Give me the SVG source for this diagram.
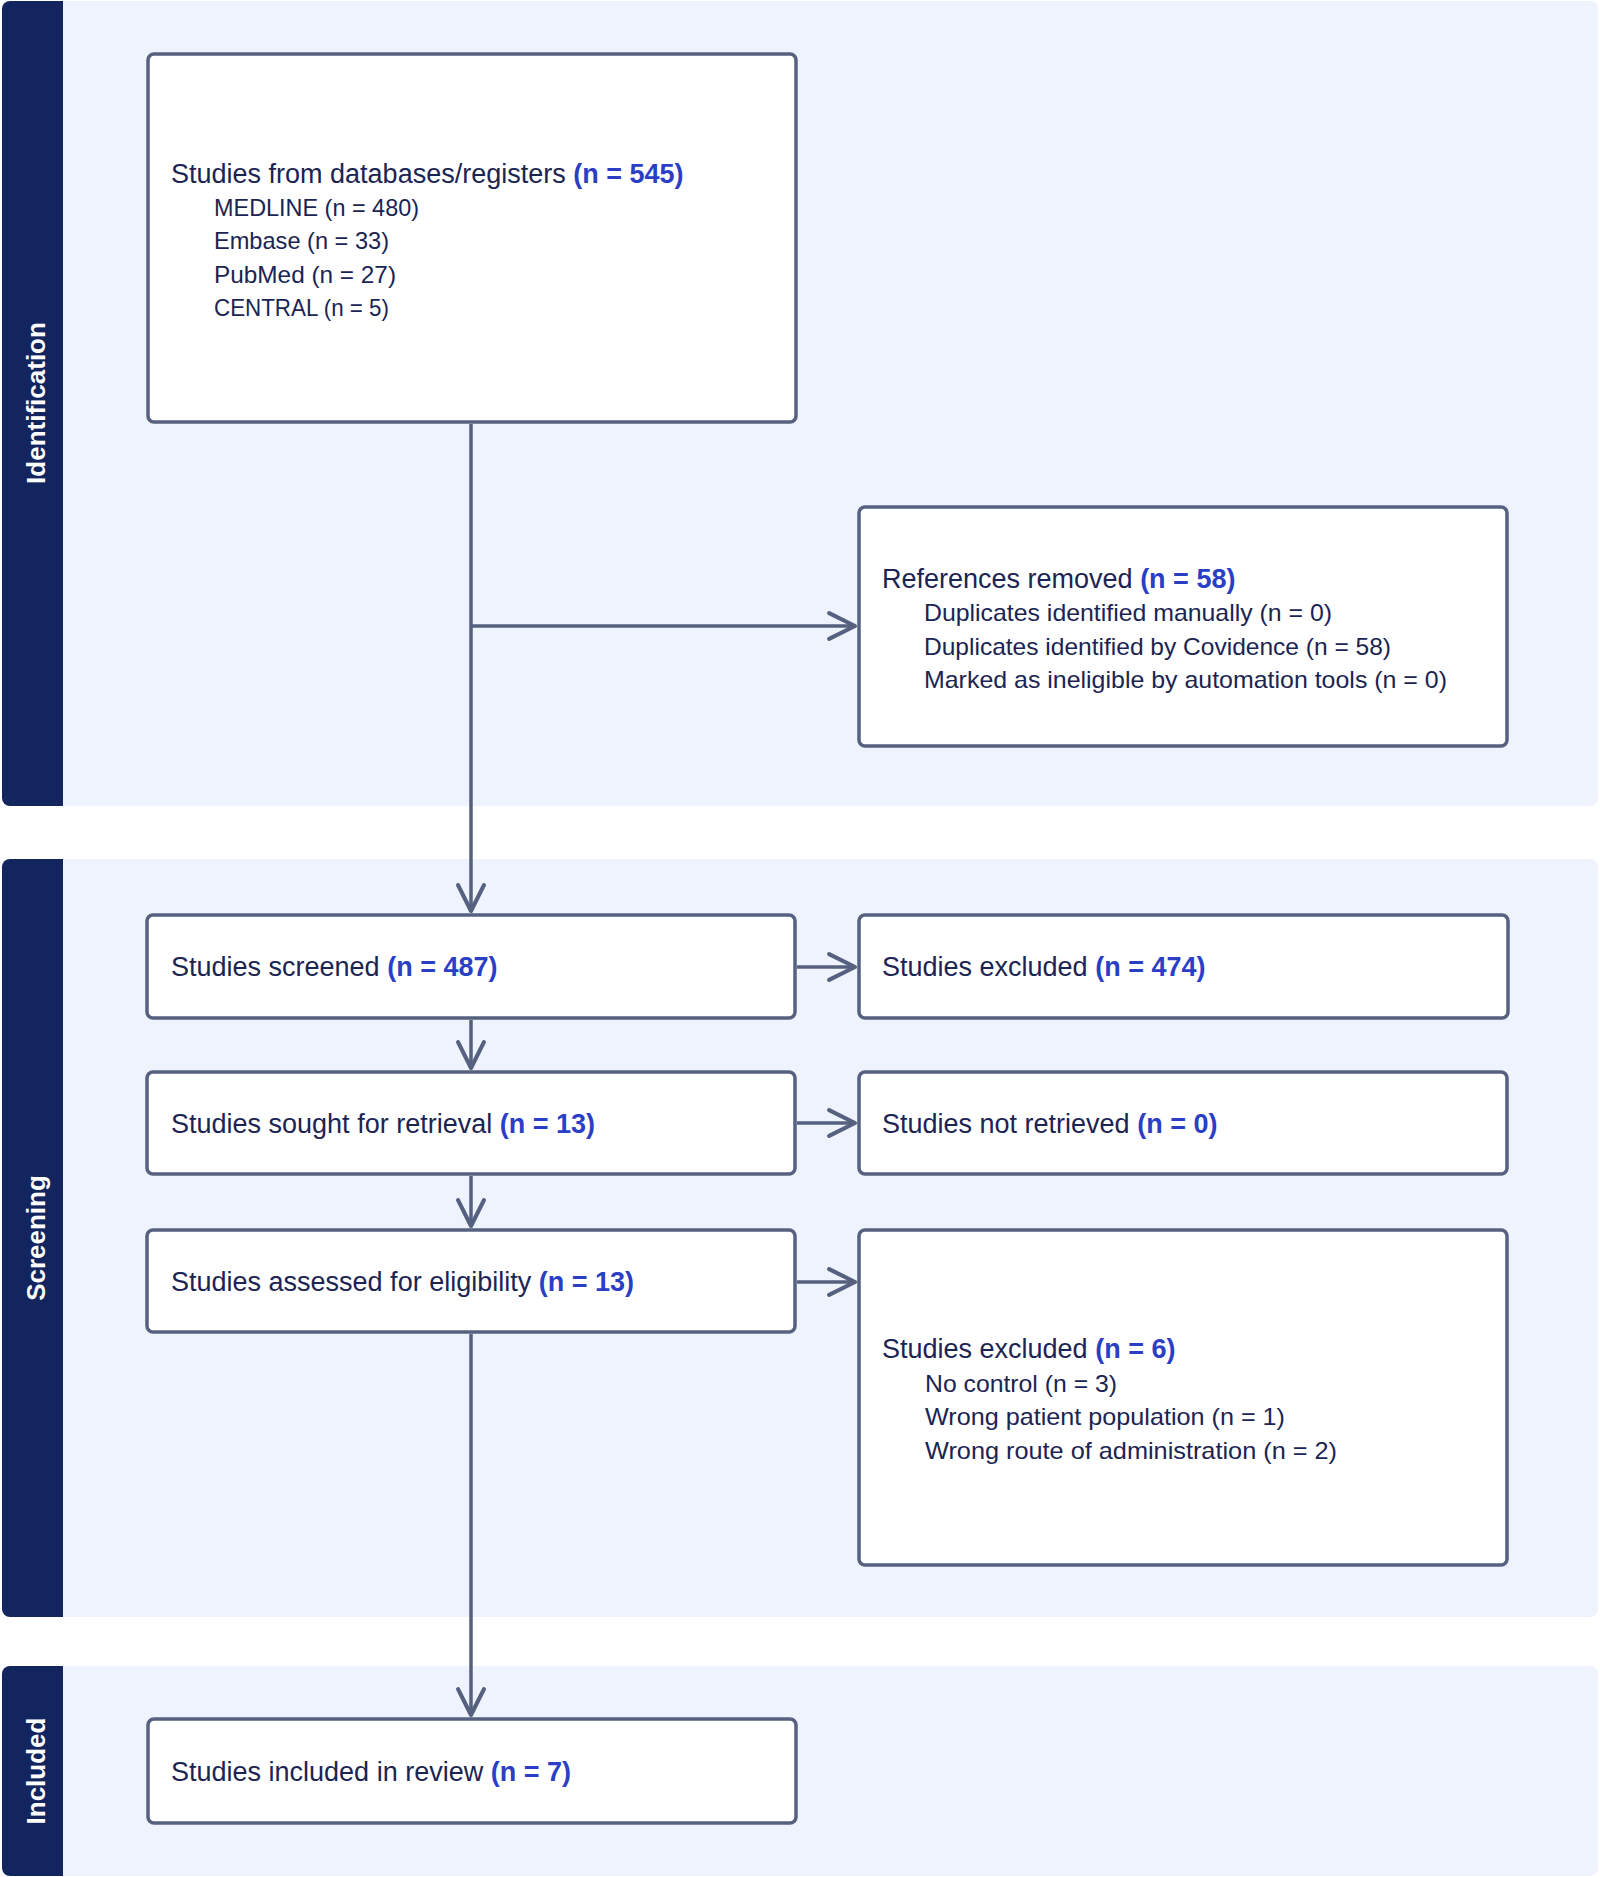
<svg xmlns="http://www.w3.org/2000/svg" width="1600" height="1877" viewBox="0 0 1600 1877">
<defs>
<style>
.band{fill:#eff3fd}
.side{fill:#13255e}
.lbl{font-family:"Liberation Sans",Arial,sans-serif;font-weight:bold;font-size:26px;fill:#ffffff;text-anchor:middle}
.box{fill:#ffffff;stroke:#56617f;stroke-width:3.5}
.t{font-family:"Liberation Sans",Arial,sans-serif;font-size:27px;fill:#1b2452}
.s{font-family:"Liberation Sans",Arial,sans-serif;font-size:24px;fill:#1b2452}
.n{font-weight:bold;fill:#2a3ec6}
.c{fill:none;stroke:#56617f;stroke-width:3.5}
</style>
<marker id="arr" markerUnits="userSpaceOnUse" markerWidth="40" markerHeight="40" refX="0" refY="0" viewBox="-30 -15 34 30" orient="auto" overflow="visible">
<path d="M -22 -11 L 0 0 L -22 11" fill="none" stroke="#56617f" stroke-width="3.5" stroke-linecap="round" stroke-linejoin="round"/>
</marker>
</defs>
<rect width="1600" height="1877" fill="#ffffff"/>
<g id="phase-identification">
<rect class="band" x="2" y="1" width="1596" height="805" rx="8"/>
<rect class="side" x="2" y="1" width="61" height="805" rx="8"/>
<rect class="side" x="40" y="1" width="23" height="805"/>
<text class="lbl" x="45" y="403" transform="rotate(-90 45 403)">Identification</text>
</g>
<g id="phase-screening">
<rect class="band" x="2" y="859" width="1596" height="758" rx="8"/>
<rect class="side" x="2" y="859" width="61" height="758" rx="8"/>
<rect class="side" x="40" y="859" width="23" height="758"/>
<text class="lbl" x="45" y="1238" transform="rotate(-90 45 1238)">Screening</text>
</g>
<g id="phase-included">
<rect class="band" x="2" y="1666" width="1596" height="210" rx="8"/>
<rect class="side" x="2" y="1666" width="61" height="210" rx="8"/>
<rect class="side" x="40" y="1666" width="23" height="210"/>
<text class="lbl" x="45" y="1771" transform="rotate(-90 45 1771)">Included</text>
</g>
<g id="connectors">
<path class="c" d="M471 424 V911" marker-end="url(#arr)"/>
<path class="c" d="M471 626 H855" marker-end="url(#arr)"/>
<path class="c" d="M797 967 H855" marker-end="url(#arr)"/>
<path class="c" d="M471 1020 V1068" marker-end="url(#arr)"/>
<path class="c" d="M797 1123 H855" marker-end="url(#arr)"/>
<path class="c" d="M471 1176 V1226" marker-end="url(#arr)"/>
<path class="c" d="M797 1282 H855" marker-end="url(#arr)"/>
<path class="c" d="M471 1334 V1715" marker-end="url(#arr)"/>
</g>
<g id="node-databases">
<rect class="box" x="148" y="54" width="648" height="368" rx="6"/>
<text class="t" x="171" y="183">Studies from databases/registers <tspan class="n">(n = 545)</tspan></text>
<text class="s" x="214" y="216" textLength="205" lengthAdjust="spacingAndGlyphs">MEDLINE (n = 480)</text>
<text class="s" x="214" y="249" textLength="175" lengthAdjust="spacingAndGlyphs">Embase (n = 33)</text>
<text class="s" x="214" y="283" textLength="182" lengthAdjust="spacingAndGlyphs">PubMed (n = 27)</text>
<text class="s" x="214" y="316" textLength="175" lengthAdjust="spacingAndGlyphs">CENTRAL (n = 5)</text>
</g>
<g id="node-removed">
<rect class="box" x="859" y="507" width="648" height="239" rx="6"/>
<text class="t" x="882" y="588">References removed <tspan class="n">(n = 58)</tspan></text>
<text class="s" x="924" y="621" textLength="408" lengthAdjust="spacingAndGlyphs">Duplicates identified manually (n = 0)</text>
<text class="s" x="924" y="655" textLength="467" lengthAdjust="spacingAndGlyphs">Duplicates identified by Covidence (n = 58)</text>
<text class="s" x="924" y="688" textLength="523" lengthAdjust="spacingAndGlyphs">Marked as ineligible by automation tools (n = 0)</text>
</g>
<g id="node-screened">
<rect class="box" x="147" y="915" width="648" height="103" rx="6"/>
<text class="t" x="171" y="976">Studies screened <tspan class="n">(n = 487)</tspan></text>
</g>
<g id="node-excluded1">
<rect class="box" x="859" y="915" width="649" height="103" rx="6"/>
<text class="t" x="882" y="976">Studies excluded <tspan class="n">(n = 474)</tspan></text>
</g>
<g id="node-sought">
<rect class="box" x="147" y="1072" width="648" height="102" rx="6"/>
<text class="t" x="171" y="1133">Studies sought for retrieval <tspan class="n">(n = 13)</tspan></text>
</g>
<g id="node-notretrieved">
<rect class="box" x="859" y="1072" width="648" height="102" rx="6"/>
<text class="t" x="882" y="1133">Studies not retrieved <tspan class="n">(n = 0)</tspan></text>
</g>
<g id="node-assessed">
<rect class="box" x="147" y="1230" width="648" height="102" rx="6"/>
<text class="t" x="171" y="1291">Studies assessed for eligibility <tspan class="n">(n = 13)</tspan></text>
</g>
<g id="node-excluded2">
<rect class="box" x="859" y="1230" width="648" height="335" rx="6"/>
<text class="t" x="882" y="1358">Studies excluded <tspan class="n">(n = 6)</tspan></text>
<text class="s" x="925" y="1392" textLength="192" lengthAdjust="spacingAndGlyphs">No control (n = 3)</text>
<text class="s" x="925" y="1425" textLength="360" lengthAdjust="spacingAndGlyphs">Wrong patient population (n = 1)</text>
<text class="s" x="925" y="1459" textLength="412" lengthAdjust="spacingAndGlyphs">Wrong route of administration (n = 2)</text>
</g>
<g id="node-included">
<rect class="box" x="148" y="1719" width="648" height="104" rx="6"/>
<text class="t" x="171" y="1781">Studies included in review <tspan class="n">(n = 7)</tspan></text>
</g>
</svg>
